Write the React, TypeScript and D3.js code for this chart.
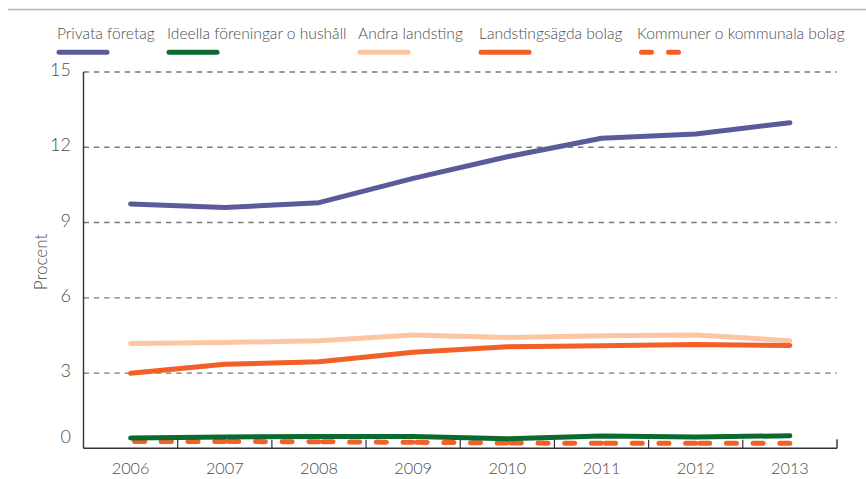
import React from "react";
import * as d3 from "d3";

const years = ["2006", "2007", "2008", "2009", "2010", "2011", "2012", "2013"];
const privata = [9.74, 9.6, 9.79, 10.76, 11.62, 12.36, 12.53, 12.98];
const ideella = [0.41, 0.45, 0.47, 0.47, 0.38, 0.49, 0.45, 0.5];
const andra = [4.18, 4.22, 4.29, 4.52, 4.42, 4.49, 4.52, 4.29];
const landstingsagda = [2.99, 3.35, 3.45, 3.83, 4.05, 4.09, 4.14, 4.1];
const kommuner = [0.27, 0.27, 0.26, 0.24, 0.21, 0.2, 0.2, 0.2];
const yTicks = [0, 3, 6, 9, 12, 15];

const legendNames = [
  "Privata företag",
  "Ideella föreningar o hushåll",
  "Andra landsting",
  "Landstingsägda bolag",
  "Kommuner o kommunala bolag",
];

const COLORS = {
  privata: "#5b5a9a",
  ideella: "#0b6a2f",
  andra: "#fdc6a2",
  landsting: "#f25f27",
  kommuner: "#f25f27",
};

const W = 866;
const H = 479;
const FONT = "Lato, 'Open Sans', sans-serif";

export default function App() {
  const x0 = 83.5;
  const x1 = 837;
  const yTop = 72;
  const yBottom = 448.3;

  const x = d3.scaleBand<string>().domain(years).range([x0, x1]);
  const y = d3.scaleLinear().domain([0, 15]).range([yBottom, yTop]);
  const cx = (yr: string) => (x(yr) as number) + x.bandwidth() / 2;

  const line = d3
    .line<number>()
    .x((_, i) => cx(years[i]))
    .y((d) => y(d));

  const series = [
    { key: "andra", data: andra, color: COLORS.andra },
    { key: "landsting", data: landstingsagda, color: COLORS.landsting },
    { key: "privata", data: privata, color: COLORS.privata },
  ];

  // segments for dashed series (pattern restarts at each data point)
  const kommunSegs = kommuner.slice(0, -1).map((v, i) => {
    const seg = d3
      .line<[number, number]>()
      .x((d) => d[0])
      .y((d) => d[1]);
    return seg([
      [cx(years[i]), y(v)],
      [cx(years[i + 1]), y(kommuner[i + 1])],
    ]);
  });

  const legendX = [57, 167, 358, 479, 637];
  const legendColors = [
    COLORS.privata,
    COLORS.ideella,
    COLORS.andra,
    COLORS.landsting,
    COLORS.kommuner,
  ];

  return (
    <svg
      width={W}
      height={H}
      style={{ position: "absolute", left: 0, top: 0, background: "#fff" }}
      fontFamily={FONT}
    >
      {/* top rule */}
      <line x1={8} x2={866} y1={9.5} y2={9.5} stroke="#b4b4b4" strokeWidth={1.5} />

      {/* legend */}
      {legendNames.map((name, i) => (
        <g key={name}>
          <text
            x={legendX[i]}
            y={38.5}
            fontSize={15.6}
            fontWeight={300}
            fill="#4d4d4d"
          >
            {name}
          </text>
          {i < 4 ? (
            <line
              x1={legendX[i] + 2}
              x2={legendX[i] + 50}
              y1={52.3}
              y2={52.3}
              stroke={legendColors[i]}
              strokeWidth={5}
              strokeLinecap="round"
            />
          ) : (
            <line
              x1={legendX[i] + 4.5}
              x2={legendX[i] + 44}
              y1={52.3}
              y2={52.3}
              stroke={legendColors[i]}
              strokeWidth={5}
              strokeLinecap="round"
              strokeDasharray="10 17"
            />
          )}
        </g>
      ))}

      {/* grid */}
      {yTicks
        .filter((t) => t > 0)
        .map((t) => (
          <line
            key={t}
            x1={x0}
            x2={x1}
            y1={y(t)}
            y2={y(t)}
            stroke="#7a7a7a"
            strokeWidth={1.3}
            strokeDasharray="5.5 4.8"
          />
        ))}

      {/* y axis */}
      <line x1={x0} x2={x0} y1={yTop} y2={yBottom} stroke="#333" strokeWidth={1.4} />
      {yTicks.map((t) => (
        <text
          key={t}
          x={71}
          y={t === 0 ? y(t) - 5 : y(t) + 4}
          textAnchor="end"
          fontSize={18}
          fontWeight={300}
          fill="#4d4d4d"
        >
          {t}
        </text>
      ))}
      <text
        transform={`translate(47,262) rotate(-90)`}
        textAnchor="middle"
        fontSize={17}
        fontWeight={300}
        fill="#4d4d4d"
      >
        Procent
      </text>

      {/* x axis */}
      <line x1={x0} x2={x1} y1={yBottom} y2={yBottom} stroke="#333" strokeWidth={1.4} />
      {years.slice(1).map((yr) => (
        <line
          key={yr}
          x1={x(yr) as number}
          x2={x(yr) as number}
          y1={yBottom}
          y2={yBottom - 8.5}
          stroke="#333"
          strokeWidth={1.2}
        />
      ))}
      <line x1={x1} x2={x1} y1={yBottom} y2={yBottom - 9} stroke="#333" strokeWidth={1.4} />
      {years.map((yr) => (
        <text
          key={yr}
          x={cx(yr)}
          y={474}
          textAnchor="middle"
          fontSize={16.3}
          fontWeight={300}
          fill="#4d4d4d"
        >
          {yr}
        </text>
      ))}

      {/* lines */}
      {series.map((s) => (
        <path
          key={s.key}
          d={line(s.data) as string}
          fill="none"
          stroke={s.color}
          strokeWidth={5}
          strokeLinecap="round"
          strokeLinejoin="round"
        />
      ))}
      {kommunSegs.map((d, i) => (
        <path
          key={i}
          d={d as string}
          fill="none"
          stroke={COLORS.kommuner}
          strokeWidth={5}
          strokeLinecap="round"
          strokeDasharray="10 16.7"
          strokeDashoffset={-4}
        />
      ))}
      <path
        d={line(ideella) as string}
        fill="none"
        stroke={COLORS.ideella}
        strokeWidth={5}
        strokeLinecap="round"
        strokeLinejoin="round"
      />
    </svg>
  );
}
